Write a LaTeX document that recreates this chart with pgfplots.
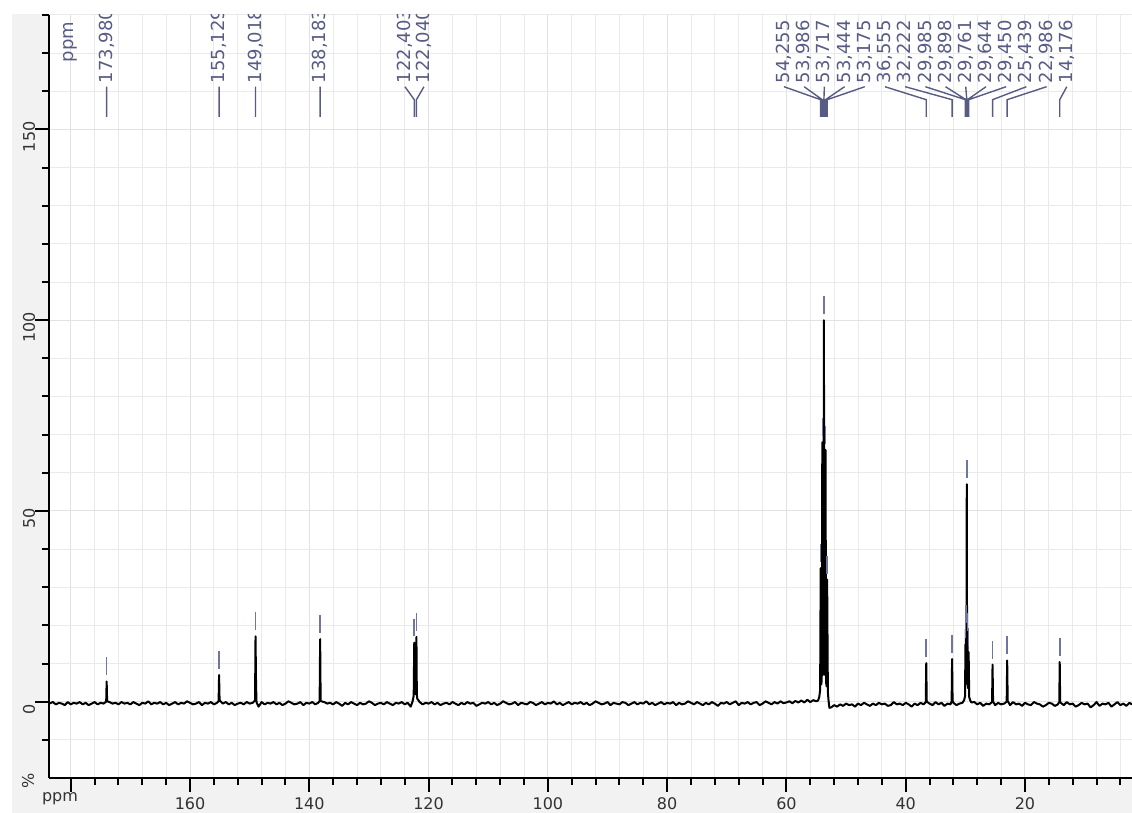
\documentclass[border=0pt]{standalone}
\usepackage{fontspec}
\setmainfont{DejaVu Sans}
\usepackage{pgfplots}
\pgfplotsset{compat=1.18}
\definecolor{labc}{RGB}{88,92,132}
\definecolor{mkc}{RGB}{112,116,160}
\definecolor{gridc}{RGB}{234,234,234}
\definecolor{gridmaj}{RGB}{226,226,226}
\definecolor{panel}{RGB}{242,242,242}
\definecolor{tickc}{RGB}{50,50,50}
\tikzset{lab/.style={rotate=90, anchor=west, inner sep=0pt, text=labc, font=\fontsize{9}{10.8}\selectfont}}
\begin{document}
\begin{tikzpicture}
\fill[panel] (-18.5pt,-17.5pt) rectangle (541.5pt,0pt);
\fill[panel] (-18.5pt,0pt) rectangle (0pt,382pt);
\begin{axis}[
  at={(0pt,0pt)}, anchor=south west,
  scale only axis, width=541.5pt, height=381.5pt,
  x dir=reverse, xmin=2.06, xmax=183.65, ymin=-20, ymax=180,
  axis x line*=bottom, axis y line*=left,
  axis line style={line width=1pt, black},
  xtick={20,40,60,80,100,120,140,160,180},
  xticklabels={20,40,60,80,100,120,140,160,{}},
  minor xtick={4,8,12,16,24,28,32,36,44,48,52,56,64,68,72,76,84,88,92,96,104,108,112,116,124,128,132,136,144,148,152,156,164,168,172,176},
  ytick={0,50,100,150}, yticklabels={0,50,100,150},
  minor ytick={-10,10,20,30,40,60,70,80,90,110,120,130,140,160,170,180},
  grid=both,
  major grid style={gridmaj, line width=0.5pt},
  minor grid style={gridc, line width=0.5pt},
  tick align=outside,
  major tick length=6.8pt, minor tick length=3.6pt,
  tick style={black, line width=1pt},
  tick label style={font=\fontsize{8}{9.6}\selectfont, text=tickc, inner sep=0pt},
  xticklabel style={anchor=north, yshift=-3pt},
  yticklabel style={rotate=90, anchor=south, xshift=-3.7pt},
  unbounded coords=jump,
  clip=true,
]
% spectrum
\addplot[black, line width=1pt, line join=round] coordinates {
(2.06,-0.7)(2.5,-0.3)(3.0,-1.1)(3.5,-0.5)(4.0,-0.9)(4.5,-0.1)(5.0,-0.7)(5.5,-1.3)(6.0,-0.3)(6.5,-0.7)
(7.0,-0.5)(7.5,-1.1)(8.0,-0.1)(8.5,-0.9)(9.0,-1.5)(9.5,-0.5)(10.0,-0.7)(10.5,-0.3)(11.0,-0.9)(11.5,-1.3)
(12.0,-0.5)(12.5,-0.7)(13.0,-0.1)(13.5,-0.9)(14.0,-0.3)(14.1,0.0)(14.176,10.4)(14.25,-0.1)(14.5,-0.7)(15.0,-1.1)
(15.5,-0.5)(16.0,-0.3)(16.5,-0.9)(17.0,-1.3)(17.5,-0.7)(18.0,-0.5)(18.5,-0.1)(19.0,-0.9)(19.5,-0.7)(20.0,-0.3)
(20.5,-1.1)(21.0,-0.5)(21.5,-0.7)(22.0,-0.1)(22.5,-0.9)(22.9,0.2)(22.986,10.8)(23.07,0.0)(23.5,-0.5)(24.0,-0.7)
(24.5,-0.3)(25.0,-0.9)(25.35,0.0)(25.439,9.7)(25.52,-0.1)(26.0,-0.7)(26.5,-0.5)(27.0,-1.1)(27.5,-0.3)(28.0,-0.7)
(28.5,-0.1)(29.0,-0.2)(29.2,0.4)(29.35,1.2)(29.45,13)(29.52,3.5)(29.58,4)(29.644,17)(29.70,5)(29.761,57)
(29.83,5)(29.898,19)(29.94,4.5)(29.985,15)(30.05,1.5)(30.2,0.4)(30.5,-0.3)(31.0,-0.5)(31.5,-0.9)(32.0,-0.3)
(32.14,0.3)(32.222,11.2)(32.30,0.1)(32.5,-0.7)(33.0,-0.5)(33.5,-1.1)(34.0,-0.3)(34.5,-0.7)(35.0,-0.1)(35.5,-0.9)
(36.0,-0.5)(36.47,0.0)(36.555,10.1)(36.64,-0.1)(37.0,-0.7)(37.5,-0.3)(38.0,-0.9)(38.5,-0.5)(39.0,-1.3)(39.5,-0.7)
(40.0,-0.3)(40.5,-0.9)(41.0,-0.5)(41.5,-0.7)(42.0,-0.1)(42.5,-0.9)(43.0,-1.1)(43.5,-0.5)(44.0,-0.7)(44.5,-0.3)
(45.0,-0.9)(45.5,-0.5)(46.0,-1.1)(46.5,-0.7)(47.0,-0.3)(47.5,-0.9)(48.0,-0.5)(48.5,-1.3)(49.0,-0.7)(49.5,-0.9)
(50.0,-0.5)(50.5,-1.1)(51.0,-0.7)(51.5,-1.3)(52.0,-0.9)(52.5,-1.5)(52.8,-1.6)(52.95,0.5)(53.05,2.5)(53.175,32)
(53.25,4)(53.35,5)(53.444,66)(53.53,7)(53.63,8)(53.717,100)(53.80,8)(53.9,7)(53.986,68)(54.08,5.5)
(54.17,4.5)(54.255,35)(54.35,3)(54.5,1.2)(54.7,0.3)(55.0,0.1)(55.5,0.4)(56.0,-0.1)(56.5,0.5)(57.0,-0.2)
(57.5,0.3)(58.0,-0.2)(58.5,0.2)(59.0,-0.4)(59.5,0.1)(60.0,-0.2)(60.5,-0.4)
(61.0,0.1)(61.5,-0.5)(62.0,-0.1)(62.5,-0.7)(63.0,-0.3)(63.5,0.1)(64.0,-0.5)(64.5,-0.9)(65.0,-0.1)(65.5,-0.3)
(66.0,-0.7)(66.5,-0.1)(67.0,-0.5)(67.5,-0.3)(68.0,-0.9)(68.5,0.1)(69.0,-0.3)(69.5,-0.7)(70.0,-0.1)(70.5,-0.5)
(71.0,-0.3)(71.5,-1.1)(72.0,-0.5)(72.5,-0.1)(73.0,-0.7)(73.5,-0.3)(74.0,-0.9)(74.5,-0.5)(75.0,-0.1)(75.5,-0.7)
(76.0,-0.3)(76.5,0.1)(77.0,-0.5)(77.5,-0.7)(78.0,-0.3)(78.5,-0.9)(79.0,-0.1)(79.5,-0.5)(80.0,-0.3)(80.5,-0.7)
(81.0,-0.1)(81.5,-0.5)(82.0,-0.9)(82.5,-0.3)(83.0,-0.7)(83.5,0.1)(84.0,-0.5)(84.5,-0.3)(85.0,-0.7)(85.5,-0.1)
(86.0,-0.5)(86.5,-0.9)(87.0,-0.3)(87.5,-0.1)(88.0,-0.7)(88.5,-0.5)(89.0,-0.3)(89.5,-0.9)(90.0,-0.1)(90.5,-0.5)
(91.0,-0.7)(91.5,-0.3)(92.0,0.1)(92.5,-0.5)(93.0,-0.9)(93.5,-0.3)(94.0,-0.7)(94.5,-0.1)(95.0,-0.5)(95.5,-0.3)
(96.0,-0.7)(96.5,-0.1)(97.0,-0.5)(97.5,-0.9)(98.0,-0.3)(98.5,-0.7)(99.0,0.1)(99.5,-0.5)(100.0,-0.3)(100.5,-0.7)
(101.0,-0.1)(101.5,-0.5)(102.0,-0.9)(102.5,-0.3)(103.0,-0.1)(103.5,-0.7)(104.0,-0.5)(104.5,-0.3)(105.0,-0.9)(105.5,-0.1)
(106.0,-0.5)(106.5,-0.7)(107.0,-0.3)(107.5,0.1)(108.0,-0.5)(108.5,-0.9)(109.0,-0.3)(109.5,-0.7)(110.0,-0.1)(110.5,-0.5)
(111.0,-0.3)(111.5,-0.7)(112.0,-1.1)(112.5,-0.3)(113.0,-0.5)(113.5,-0.1)(114.0,-0.7)(114.5,-0.3)(115.0,-0.9)(115.5,-0.5)
(116.0,-0.1)(116.5,-0.7)(117.0,-0.3)(117.5,-0.5)(118.0,-0.9)(118.5,-0.3)(119.0,-0.7)(119.5,-0.1)(120.0,-0.5)(120.5,-0.3)
(121.0,-0.7)(121.5,-0.1)(121.9,0.8)(121.97,2)(122.04,17)(122.12,3)(122.2,2)(122.3,2.5)(122.403,15.5)(122.5,1.5)
(122.7,0.0)(123.0,-1.3)(123.5,-0.3)(124.0,-0.7)(124.5,-0.1)(125.0,-0.5)(125.5,-0.3)(126.0,-0.9)(126.5,-0.5)(127.0,-0.1)
(127.5,-0.7)(128.0,-0.3)(128.5,-0.5)(129.0,-0.9)(129.5,-0.3)(130.0,0.1)(130.5,-0.5)(131.0,-0.7)(131.5,-0.3)(132.0,-0.9)
(132.5,-0.5)(133.0,-0.1)(133.5,-0.7)(134.0,-0.3)(134.5,-1.1)(135.0,-0.5)(135.5,-0.1)(136.0,-0.7)(136.5,-0.3)(137.0,-0.5)
(137.5,-0.1)(138.0,0.1)(138.1,0.3)(138.183,16.4)(138.27,0.2)(138.5,-0.3)(139.0,-0.7)(139.5,-0.1)(140.0,-0.5)(140.5,-0.3)
(141.0,-0.9)(141.5,-0.1)(142.0,-0.5)(142.5,-0.7)(143.0,-0.3)(143.5,0.1)(144.0,-0.5)(144.5,-0.9)(145.0,-0.3)(145.5,-0.7)
(146.0,-0.1)(146.5,-0.5)(147.0,-0.3)(147.5,-0.7)(148.0,-0.1)(148.5,-1.3)(148.85,-0.2)(148.93,4.5)(149.018,17.1)(149.1,0.3)
(149.5,-0.3)(150.0,-0.5)(150.5,-0.1)(151.0,-0.7)(151.5,-0.3)(152.0,-0.5)(152.5,-0.9)(153.0,-0.3)(153.5,-0.7)(154.0,-0.1)
(154.5,-0.5)(155.0,0.3)(155.05,0.8)(155.129,7.0)(155.21,0.1)(155.5,-0.3)(156.0,-0.7)(156.5,-0.1)(157.0,-0.5)(157.5,-0.3)
(158.0,-0.9)(158.5,-0.1)(159.0,-0.5)(159.5,-0.7)(160.0,-0.3)(160.5,0.1)(161.0,-0.5)(161.5,-0.3)(162.0,-0.7)(162.5,-0.1)
(163.0,-0.5)(163.5,-0.9)(164.0,-0.3)(164.5,-0.7)(165.0,-0.1)(165.5,-0.5)(166.0,-0.3)(166.5,-0.7)(167.0,0.1)(167.5,-0.5)
(168.0,-0.3)(168.5,-0.9)(169.0,-0.5)(169.5,-0.1)(170.0,-0.7)(170.5,-0.3)(171.0,-0.5)(171.5,-0.1)(172.0,-0.7)(172.5,-0.3)
(173.0,-0.5)(173.5,-0.1)(173.9,0.1)(173.98,5.3)(174.06,0.0)(174.5,-0.5)(175.0,-0.3)(175.5,-0.7)(176.0,-0.1)(176.5,-0.5)
(177.0,-0.9)(177.5,-0.3)(178.0,-0.7)(178.5,-0.1)(179.0,-0.5)(179.5,-0.3)(180.0,-0.7)(180.5,-0.1)(181.0,-0.9)(181.5,-0.5)
(182.0,-0.3)(182.5,-0.7)(183.0,-0.1)(183.65,-0.5)
};
% peak markers
\addplot[mkc, line width=0.8pt] coordinates {
(173.98,6.9)(173.98,11.6)(173.98,nan)
(155.129,8.6)(155.129,13.3)(155.129,nan)
(149.018,18.7)(149.018,23.4)(149.018,nan)
(138.183,18.0)(138.183,22.7)(138.183,nan)
(122.403,17.1)(122.403,21.8)(122.403,nan)
(122.04,18.6)(122.04,23.3)(122.04,nan)
(54.255,36.6)(54.255,41.3)(54.255,nan)
(53.986,69.6)(53.986,74.3)(53.986,nan)
(53.717,101.6)(53.717,106.3)(53.717,nan)
(53.444,67.6)(53.444,72.3)(53.444,nan)
(53.175,33.6)(53.175,38.3)(53.175,nan)
(36.555,11.7)(36.555,16.4)(36.555,nan)
(32.222,12.8)(32.222,17.5)(32.222,nan)
(29.985,16.6)(29.985,21.3)(29.985,nan)
(29.898,20.6)(29.898,25.3)(29.898,nan)
(29.761,58.6)(29.761,63.3)(29.761,nan)
(29.644,18.6)(29.644,23.3)(29.644,nan)
(29.45,14.6)(29.45,19.3)(29.45,nan)
(25.439,11.3)(25.439,16.0)(25.439,nan)
(22.986,12.4)(22.986,17.1)(22.986,nan)
(14.176,12.0)(14.176,16.7)
};
% leader lines
\addplot[labc, line width=0.7pt] coordinates {
(173.98,161.2)(173.98,153.3)(173.98,nan)
(155.129,161.2)(155.129,153.3)(155.129,nan)
(149.018,161.2)(149.018,153.3)(149.018,nan)
(138.183,161.2)(138.183,153.3)(138.183,nan)
(123.96,161.2)(122.403,157.8)(122.403,153.3)(122.403,nan)
(120.78,161.2)(122.04,157.8)(122.04,153.3)(122.04,nan)
(60.41,161.2)(54.255,157.8)(54.255,153.3)(54.255,nan)
(57.03,161.2)(53.986,157.8)(53.986,153.3)(53.986,nan)
(53.64,161.2)(53.717,157.8)(53.717,153.3)(53.717,nan)
(50.25,161.2)(53.444,157.8)(53.444,153.3)(53.444,nan)
(46.86,161.2)(53.175,157.8)(53.175,153.3)(53.175,nan)
(43.48,161.2)(36.555,157.8)(36.555,153.3)(36.555,nan)
(40.09,161.2)(32.222,157.8)(32.222,153.3)(32.222,nan)
(36.70,161.2)(29.985,157.8)(29.985,153.3)(29.985,nan)
(33.32,161.2)(29.898,157.8)(29.898,153.3)(29.898,nan)
(29.93,161.2)(29.761,157.8)(29.761,153.3)(29.761,nan)
(26.54,161.2)(29.644,157.8)(29.644,153.3)(29.644,nan)
(23.16,161.2)(29.45,157.8)(29.45,153.3)(29.45,nan)
(19.77,161.2)(25.439,157.8)(25.439,153.3)(25.439,nan)
(16.38,161.2)(22.986,157.8)(22.986,153.3)(22.986,nan)
(12.99,161.2)(14.176,157.8)(14.176,153.3)
};
% labels
\node[lab] at (axis cs:180.13,167.5) {ppm};
\node[lab] at (axis cs:173.98,162) {173,980};
\node[lab] at (axis cs:155.129,162) {155,129};
\node[lab] at (axis cs:149.018,162) {149,018};
\node[lab] at (axis cs:138.183,162) {138,183};
\node[lab] at (axis cs:123.96,162) {122,403};
\node[lab] at (axis cs:120.78,162) {122,040};
\node[lab] at (axis cs:60.41,162) {54,255};
\node[lab] at (axis cs:57.03,162) {53,986};
\node[lab] at (axis cs:53.64,162) {53,717};
\node[lab] at (axis cs:50.25,162) {53,444};
\node[lab] at (axis cs:46.86,162) {53,175};
\node[lab] at (axis cs:43.48,162) {36,555};
\node[lab] at (axis cs:40.09,162) {32,222};
\node[lab] at (axis cs:36.70,162) {29,985};
\node[lab] at (axis cs:33.32,162) {29,898};
\node[lab] at (axis cs:29.93,162) {29,761};
\node[lab] at (axis cs:26.54,162) {29,644};
\node[lab] at (axis cs:23.16,162) {29,450};
\node[lab] at (axis cs:19.77,162) {25,439};
\node[lab] at (axis cs:16.38,162) {22,986};
\node[lab] at (axis cs:12.99,162) {14,176};
\end{axis}
\fill[white] (0.5pt,382pt) rectangle (542pt,390pt);
\node[rotate=90, inner sep=0pt, text=tickc, font=\fontsize{8}{9.6}\selectfont] at (-10.5pt,-1.5pt) {\%};
\node[anchor=base, inner sep=0pt, text=tickc, font=\fontsize{8}{9.6}\selectfont] at (5.5pt,-12pt) {ppm};
\pgfresetboundingbox
\path[use as bounding box] (-24.5pt,-17.5pt) rectangle (541.5pt,389pt);
\end{tikzpicture}
\end{document}
